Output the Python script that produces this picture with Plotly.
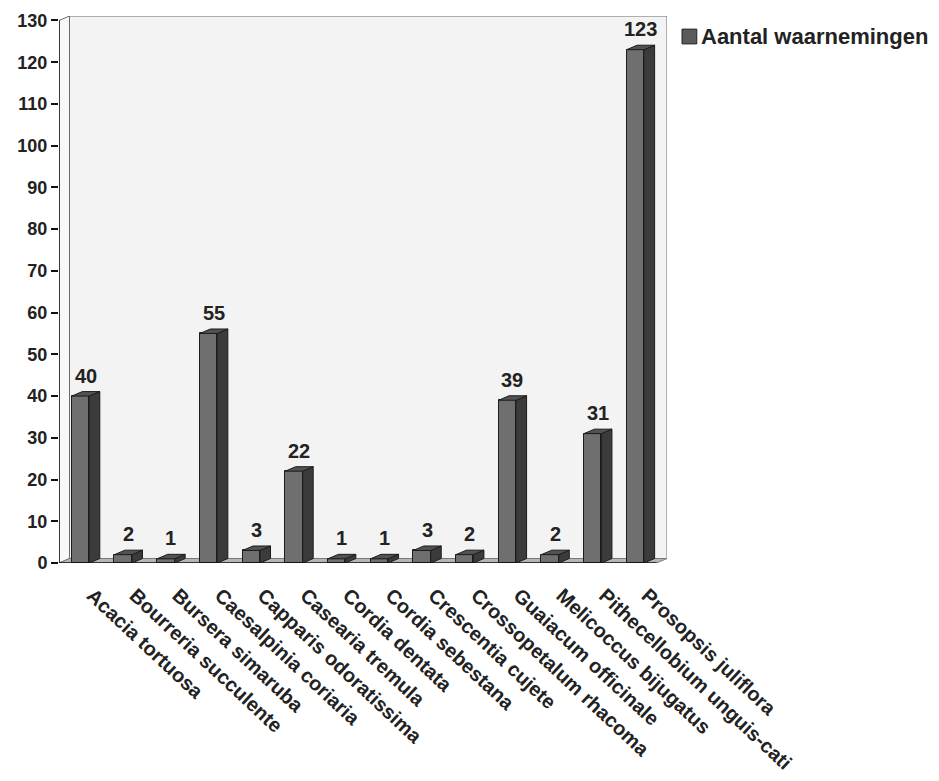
import plotly.graph_objects as go

# Species and number of observations
species = [
    "Acacia tortuosa", "Bourreria succulente", "Bursera simaruba",
    "Caesalpinia coriaria", "Capparis odoratissima", "Casearia tremula",
    "Cordia dentata", "Cordia sebestana", "Crescentia cujete",
    "Crossopetalum rhacoma", "Guaiacum officinale", "Melicoccus bijugatus",
    "Pithecellobium unguis-cati", "Prosopsis juliflora",
]
counts = [40, 2, 1, 55, 3, 22, 1, 1, 3, 2, 39, 2, 31, 123]
series_name = "Aantal waarnemingen"
y_ticks = list(range(0, 131, 10))

FONT = "Arial, Liberation Sans, sans-serif"
n = len(species)
pos = list(range(n))

# pseudo-3D depth (in axis units) and bar half-widths
DX, DY = 0.246, 1.075
W_LEFT, W_RIGHT = 0.20, 0.21
Y_MAX = 130

FRONT, SIDE, TOP, EDGE = "#6f6f6f", "#3b3b3b", "#525252", "#1c1c1c"

fig = go.Figure()

# front faces
fig.add_trace(go.Bar(
    x=pos, y=counts, width=W_LEFT + W_RIGHT, offset=-W_LEFT,
    marker=dict(color=FRONT, line=dict(color=EDGE, width=1)),
    name=series_name, showlegend=False, hoverinfo="skip",
))

# side and top faces as polygons
sx, sy, tx, ty = [], [], [], []
for c, v in zip(pos, counts):
    r = c + W_RIGHT
    l = c - W_LEFT
    sx += [r, r + DX, r + DX, r, r, None]
    sy += [0, DY, v + DY, v, 0, None]
    tx += [l, r, r + DX, l + DX, l, None]
    ty += [v, v, v + DY, v + DY, v, None]
fig.add_trace(go.Scatter(x=sx, y=sy, mode="lines", fill="toself", fillcolor=SIDE,
                         line=dict(color=EDGE, width=1), showlegend=False, hoverinfo="skip"))
fig.add_trace(go.Scatter(x=tx, y=ty, mode="lines", fill="toself", fillcolor=TOP,
                         line=dict(color=EDGE, width=1), showlegend=False, hoverinfo="skip"))

x0, x1 = -0.5, n - 0.5

# walls and floor
shapes = [
    dict(type="rect", xref="x", yref="y", x0=x0 + DX, y0=DY, x1=x1 + DX, y1=Y_MAX + DY,
         fillcolor="#f3f3f3", line=dict(color="#6a6a6a", width=1), layer="below"),
    dict(type="path", xref="x", yref="y",
         path=f"M {x0},0 L {x0 + DX},{DY} L {x0 + DX},{Y_MAX + DY} L {x0},{Y_MAX} Z",
         fillcolor="#f8f8f8", line=dict(color="#6a6a6a", width=1), layer="below"),
    dict(type="path", xref="x", yref="y",
         path=f"M {x0},0 L {x1},0 L {x1 + DX},{DY} L {x0 + DX},{DY} Z",
         fillcolor="#b5b5b5", line=dict(color="#7a7a7a", width=1), layer="below"),
    # axis lines
    dict(type="line", xref="x", yref="y", x0=x0, y0=0, x1=x0, y1=Y_MAX,
         line=dict(color="#111", width=1.5)),
    dict(type="line", xref="x", yref="y", x0=x0, y0=0, x1=x1, y1=0,
         line=dict(color="#111", width=1.5)),
    # legend key
    dict(type="rect", xref="paper", yref="paper", x0=1.0247, x1=1.049, y0=0.949, y1=0.976,
         fillcolor="#5a5a5a", line=dict(color="#222", width=1)),
]

annotations = [
    dict(x=c + DX / 2, y=v + DY, text=str(v), xref="x", yref="y", showarrow=False,
         yanchor="bottom", yshift=3, font=dict(family=FONT, size=20, color="#222", weight="bold"))
    for c, v in zip(pos, counts)
]
annotations.append(dict(x=1.053, y=0.962, xref="paper", yref="paper", text=series_name,
                        showarrow=False, xanchor="left", yanchor="middle",
                        font=dict(family=FONT, size=22, color="#222", weight="bold")))

fig.update_layout(
    width=939, height=781,
    margin=dict(l=59, r=272, t=16, b=218),
    paper_bgcolor="white", plot_bgcolor="white",
    showlegend=False, bargap=0,
    shapes=shapes, annotations=annotations,
    xaxis=dict(range=[x0, x1 + DX], tickmode="array", tickvals=pos, ticktext=species,
               tickangle=43, ticks="", showgrid=False, zeroline=False, showline=False,
               ticklabelstandoff=16, ticklabelshift=12, automargin=False,
               tickfont=dict(family=FONT, size=20, color="#222", weight="bold")),
    xaxis2=dict(range=[x0, x1 + DX], overlaying="x", anchor="y", side="bottom",
                tickmode="array", tickvals=[x0 + i for i in range(n + 1)],
                ticks="outside", ticklen=10, tickwidth=1.5, tickcolor="#111",
                showticklabels=False, showgrid=False, zeroline=False, showline=False,
                automargin=False),
    yaxis=dict(range=[0, Y_MAX + DY], tickmode="array", tickvals=y_ticks,
               ticks="outside", ticklen=7, tickwidth=1.5, tickcolor="#111",
               showgrid=False, zeroline=False, showline=False, automargin=False,
               tickfont=dict(family=FONT, size=18, color="#222", weight="bold")),
)

fig.write_html("out.html")
